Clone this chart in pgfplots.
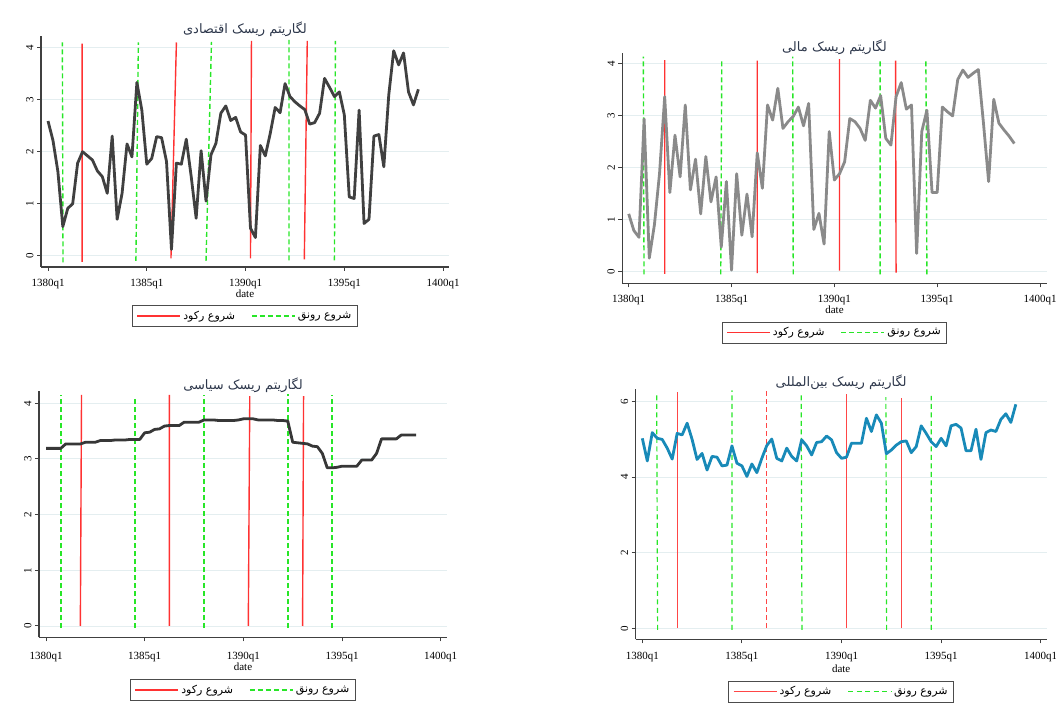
\documentclass[border=0pt]{standalone}
\usepackage{fontspec}
\setmainfont{Liberation Serif}
\newfontfamily\arabicfont[Script=Arabic]{DejaVu Sans}
\TeXXeTstate=1
\usepackage{pgfplots}
\pgfplotsset{compat=1.18}
\usepackage{pgfplotstable}

\definecolor{recred}{RGB}{255,50,50}
\definecolor{recred4}{RGB}{255,70,70}
\definecolor{boomgreen}{RGB}{40,230,40}
\definecolor{gridc}{RGB}{228,238,240}
\definecolor{titlec}{RGB}{45,55,75}
\definecolor{sA}{RGB}{64,64,64}
\definecolor{sB}{RGB}{138,138,138}
\definecolor{sC}{RGB}{55,55,55}
\definecolor{sD}{RGB}{24,138,184}

\pgfplotstableread{
t v
0 2.59
1 2.22
2 1.62
3 0.56
4 0.91
5 1.00
6 1.78
7 2.00
8 1.92
9 1.84
10 1.63
11 1.52
12 1.20
13 2.30
14 0.70
15 1.20
16 2.15
17 1.90
18 3.33
19 2.80
20 1.76
21 1.87
22 2.29
23 2.27
24 1.81
25 0.12
26 1.78
27 1.76
28 2.24
29 1.52
30 0.72
31 2.02
32 1.05
33 1.94
34 2.16
35 2.74
36 2.88
37 2.60
38 2.66
39 2.38
40 2.32
41 0.53
42 0.35
43 2.12
44 1.92
45 2.35
46 2.85
47 2.75
48 3.31
49 3.06
50 2.96
51 2.88
52 2.81
53 2.53
54 2.56
55 2.74
56 3.41
57 3.24
58 3.06
59 3.15
60 2.71
61 1.13
62 1.10
63 2.80
64 0.62
65 0.70
66 2.30
67 2.33
68 1.71
69 3.09
70 3.94
71 3.67
72 3.90
73 3.15
74 2.90
75 3.20
}\econ

\pgfplotstableread{
t v
0 1.11
1 0.79
2 0.66
3 2.93
4 0.26
5 0.90
6 1.89
7 3.36
8 1.52
9 2.62
10 1.82
11 3.20
12 1.57
13 2.16
14 1.11
15 2.21
16 1.34
17 1.82
18 0.47
19 1.73
20 0.03
21 1.88
22 0.70
23 1.49
24 0.67
25 2.28
26 1.60
27 3.20
28 2.91
29 3.52
30 2.75
31 2.88
32 2.98
33 3.16
34 2.80
35 3.23
36 0.81
37 1.12
38 0.53
39 2.69
40 1.76
41 1.88
42 2.11
43 2.94
44 2.88
45 2.75
46 2.52
47 3.29
48 3.14
49 3.38
50 2.56
51 2.43
52 3.36
53 3.63
54 3.12
55 3.20
56 0.35
57 2.69
58 3.10
59 1.52
60 1.52
61 3.16
62 3.07
63 2.99
64 3.69
65 3.87
66 3.73
67 3.81
68 3.88
69 2.85
70 1.73
71 3.31
72 2.85
73 2.72
74 2.60
75 2.46
}\fin

\pgfplotstableread{
t v
0 3.19
1 3.19
2 3.19
3 3.19
4 3.27
5 3.27
6 3.27
7 3.27
8 3.30
9 3.30
10 3.30
11 3.33
12 3.33
13 3.33
14 3.34
15 3.34
16 3.34
17 3.35
18 3.35
19 3.35
20 3.47
21 3.48
22 3.53
23 3.54
24 3.59
25 3.60
26 3.60
27 3.60
28 3.66
29 3.66
30 3.66
31 3.66
32 3.70
33 3.70
34 3.70
35 3.69
36 3.69
37 3.69
38 3.69
39 3.70
40 3.72
41 3.72
42 3.72
43 3.70
44 3.70
45 3.70
46 3.70
47 3.69
48 3.69
49 3.68
50 3.30
51 3.29
52 3.28
53 3.27
54 3.23
55 3.22
56 3.10
57 2.84
58 2.84
59 2.85
60 2.87
61 2.87
62 2.87
63 2.87
64 2.98
65 2.98
66 2.98
67 3.10
68 3.36
69 3.36
70 3.36
71 3.36
72 3.43
73 3.43
74 3.43
75 3.43
}\pol

\pgfplotstableread{
t v
0 5.03
1 4.43
2 5.18
3 5.03
4 5.00
5 4.77
6 4.48
7 5.16
8 5.12
9 5.43
10 5.00
11 4.47
12 4.63
13 4.19
14 4.55
15 4.53
16 4.30
17 4.32
18 4.83
19 4.37
20 4.30
21 4.02
22 4.35
23 4.12
24 4.50
25 4.84
26 5.01
27 4.50
28 4.43
29 4.77
30 4.55
31 4.43
32 4.99
33 4.83
34 4.59
35 4.92
36 4.94
37 5.09
38 4.99
39 4.65
40 4.50
41 4.53
42 4.90
43 4.90
44 4.90
45 5.56
46 5.21
47 5.65
48 5.43
49 4.62
50 4.72
51 4.85
52 4.94
53 4.96
54 4.65
55 4.81
56 5.36
57 5.16
58 4.94
59 4.81
60 5.03
61 4.83
62 5.36
63 5.40
64 5.30
65 4.70
66 4.70
67 5.27
68 4.47
69 5.18
70 5.25
71 5.21
72 5.53
73 5.68
74 5.45
75 5.93
}\intl

\pgfplotsset{
  panel/.style={
    scale only axis,
    axis x line*=bottom, axis y line*=left,
    axis line style={draw=black!75, line width=1.1pt},
    xtick={0,20,40,60,80},
    xticklabels={1380q1,1385q1,1390q1,1395q1,1400q1},
    tick align=outside, major tick length=4pt,
    tick style={black!75, line width=1pt},
    minor tick num=0,
    ymajorgrids, grid style={gridc, line width=0.9pt},
    every tick label/.append style={font=\fontsize{11}{13}\selectfont},
    yticklabel style={rotate=90, anchor=south},
    xticklabel style={yshift=-5pt},
    /pgf/number format/assume math mode=true,
    xlabel={date},
    title style={font=\arabicfont\fontsize{13}{15}\selectfont, text=titlec, at={(0.5,1)}, anchor=base},
    legend columns=2,
    legend style={at={(0.5,0)}, anchor=north, draw=black!70, line width=0.8pt,
      font=\arabicfont\fontsize{11}{13}\selectfont, inner xsep=4pt, inner ysep=3.5pt,
      /tikz/every even column/.append style={column sep=14pt}},
    legend image code/.code={\draw[##1, line width=1.7pt] (0pt,0pt) -- (43pt,0pt);},
    unbounded coords=jump,
    clip=false,
  },
  redl/.style={recred, line width=1.4pt},
  greenl/.style={boomgreen, line width=1.4pt, dash pattern=on 5pt off 3pt},
  ser/.style={line width=2.8pt, line join=round},
}

\begin{document}
\begin{tikzpicture}[x=1pt,y=1pt]
\path[use as bounding box] (0,0) rectangle (1056,712);

% Panel 1
\begin{axis}[panel, at={(41pt,445pt)}, width=408pt, height=231pt,
  xmin=-1.418, xmax=81.2, ymin=-0.217, ymax=4.225, ytick={0,1,2,3,4},
  title={\beginR لگاریتم ریسک اقتصادی\endR}, title style={yshift=-4pt},
  xlabel style={at={(axis description cs:0.5,0)}, anchor=center, yshift=-26.3pt, font=\fontsize{11}{13}\selectfont},
  legend style={yshift=-38pt}]
\addplot[redl] table[row sep=\\]{x y\\ 6.9 -0.12\\ 6.9 4.08\\ nan nan\\ 24.9 -0.05\\ 26.0 4.1\\ nan nan\\ 41.0 -0.05\\ 41.2 4.13\\ nan nan\\ 51.9 -0.07\\ 52.5 4.13\\};
\addlegendentry{\beginR شروع رکود\endR}
\addplot[greenl] table[row sep=\\]{x y\\ 3.04 -0.13\\ 2.91 4.1\\ nan nan\\ 17.8 -0.1\\ 18.3 4.1\\ nan nan\\ 32.0 -0.1\\ 33.1 4.11\\ nan nan\\ 48.8 -0.09\\ 48.8 4.15\\ nan nan\\ 58.0 -0.09\\ 58.2 4.13\\};
\addlegendentry{\beginR شروع رونق\endR}
\addplot[ser, sA, forget plot] table[x=t, y=v]{\econ};
\end{axis}

% Panel 2
\begin{axis}[panel, at={(622.3pt,428.7pt)}, width=424.4pt, height=230.4pt,
  xmin=-1.245, xmax=81.3, ymin=-0.223, ymax=4.2, ytick={0,1,2,3,4},
  title={\beginR لگاریتم ریسک مالی\endR}, title style={yshift=-5pt},
  xticklabel style={yshift=1pt},
  xlabel style={at={(axis description cs:0.5,0)}, anchor=center, yshift=-26pt, font=\fontsize{11}{13}\selectfont},
  legend style={yshift=-38.4pt}]
\addplot[redl] table[row sep=\\]{x y\\ 7.0 -0.04\\ 7.0 4.06\\ nan nan\\ 25 -0.03\\ 25 4.05\\ nan nan\\ 41 0.02\\ 41 4.08\\ nan nan\\ 52.0 -0.02\\ 51.9 4.05\\};
\addlegendentry{\beginR شروع رکود\endR}
\addplot[greenl] table[row sep=\\]{x y\\ 2.98 -0.05\\ 2.85 4.13\\ nan nan\\ 17.9 -0.05\\ 18.1 4.06\\ nan nan\\ 32.0 -0.05\\ 31.9 4.13\\ nan nan\\ 48.9 -0.05\\ 48.9 4.06\\ nan nan\\ 58.0 -0.05\\ 57.8 4.05\\};
\addlegendentry{\beginR شروع رونق\endR}
\addplot[ser, sB, forget plot] table[x=t, y=v]{\fin};
\end{axis}

% Panel 3
\begin{axis}[panel, at={(39pt,74.7pt)}, width=408pt, height=246.3pt,
  xmin=-1.419, xmax=81.27, ymin=-0.203, ymax=4.22, ytick={0,1,2,3,4},
  title={\beginR لگاریتم ریسک سیاسی\endR}, title style={yshift=-4pt},
  xticklabel style={yshift=-2pt},
  xlabel style={at={(axis description cs:0.5,0)}, anchor=center, yshift=-29.4pt, font=\fontsize{11}{13}\selectfont},
  legend style={yshift=-41.7pt}]
\addplot[redl] table[row sep=\\]{x y\\ 6.96 0\\ 7.2 4.15\\ nan nan\\ 25 0\\ 25 4.15\\ nan nan\\ 41.0 0\\ 41.3 4.13\\ nan nan\\ 52.0 0\\ 52.2 4.13\\};
\addlegendentry{\beginR شروع رکود\endR}
\addplot[greenl] table[row sep=\\]{x y\\ 3.04 -0.04\\ 3.04 4.15\\ nan nan\\ 18.0 -0.04\\ 18.0 4.12\\ nan nan\\ 32.0 -0.04\\ 32.0 4.15\\ nan nan\\ 49.05 -0.04\\ 49.05 4.16\\ nan nan\\ 58.0 -0.04\\ 58.0 4.15\\};
\addlegendentry{\beginR شروع رونق\endR}
\addplot[ser, sC, forget plot] table[x=t, y=v]{\pol};
\end{axis}

% Panel 4
\begin{axis}[panel, at={(635.7pt,72.7pt)}, width=411pt, height=250.1pt,
  xmin=-1.325, xmax=81.2, ymin=-0.291, ymax=6.33, ytick={0,2,4,6},
  title={\beginR لگاریتم ریسک بین‌المللی\endR}, title style={yshift=-3.5pt},
  xlabel style={at={(axis description cs:0.5,0)}, anchor=center, yshift=-29pt, font=\fontsize{11}{13}\selectfont},
  legend style={yshift=-41.4pt}]
\addplot[recred4, line width=1.2pt] table[row sep=\\]{x y\\ 7.1 0.02\\ 7.1 6.25\\ nan nan\\ 41.0 0.02\\ 41.0 6.2\\ nan nan\\ 52.0 0.02\\ 52.0 6.1\\};
\addlegendentry{\beginR شروع رکود\endR}
\addplot[boomgreen, line width=1.2pt, dash pattern=on 5pt off 3.5pt] table[row sep=\\]{x y\\ 3.08 -0.04\\ 2.88 6.25\\ nan nan\\ 18.0 -0.04\\ 18.0 6.3\\ nan nan\\ 32.06 -0.04\\ 31.9 6.25\\ nan nan\\ 49.06 -0.04\\ 48.9 6.12\\ nan nan\\ 58.0 -0.04\\ 58.0 6.15\\};
\addlegendentry{\beginR شروع رونق\endR}
\addplot[recred4, line width=1.2pt, dash pattern=on 5pt off 3pt, forget plot] table[row sep=\\]{x y\\ 24.97 0.02\\ 24.97 6.28\\};
\addplot[ser, sD, forget plot] table[x=t, y=v]{\intl};
\end{axis}
\end{tikzpicture}
\end{document}
